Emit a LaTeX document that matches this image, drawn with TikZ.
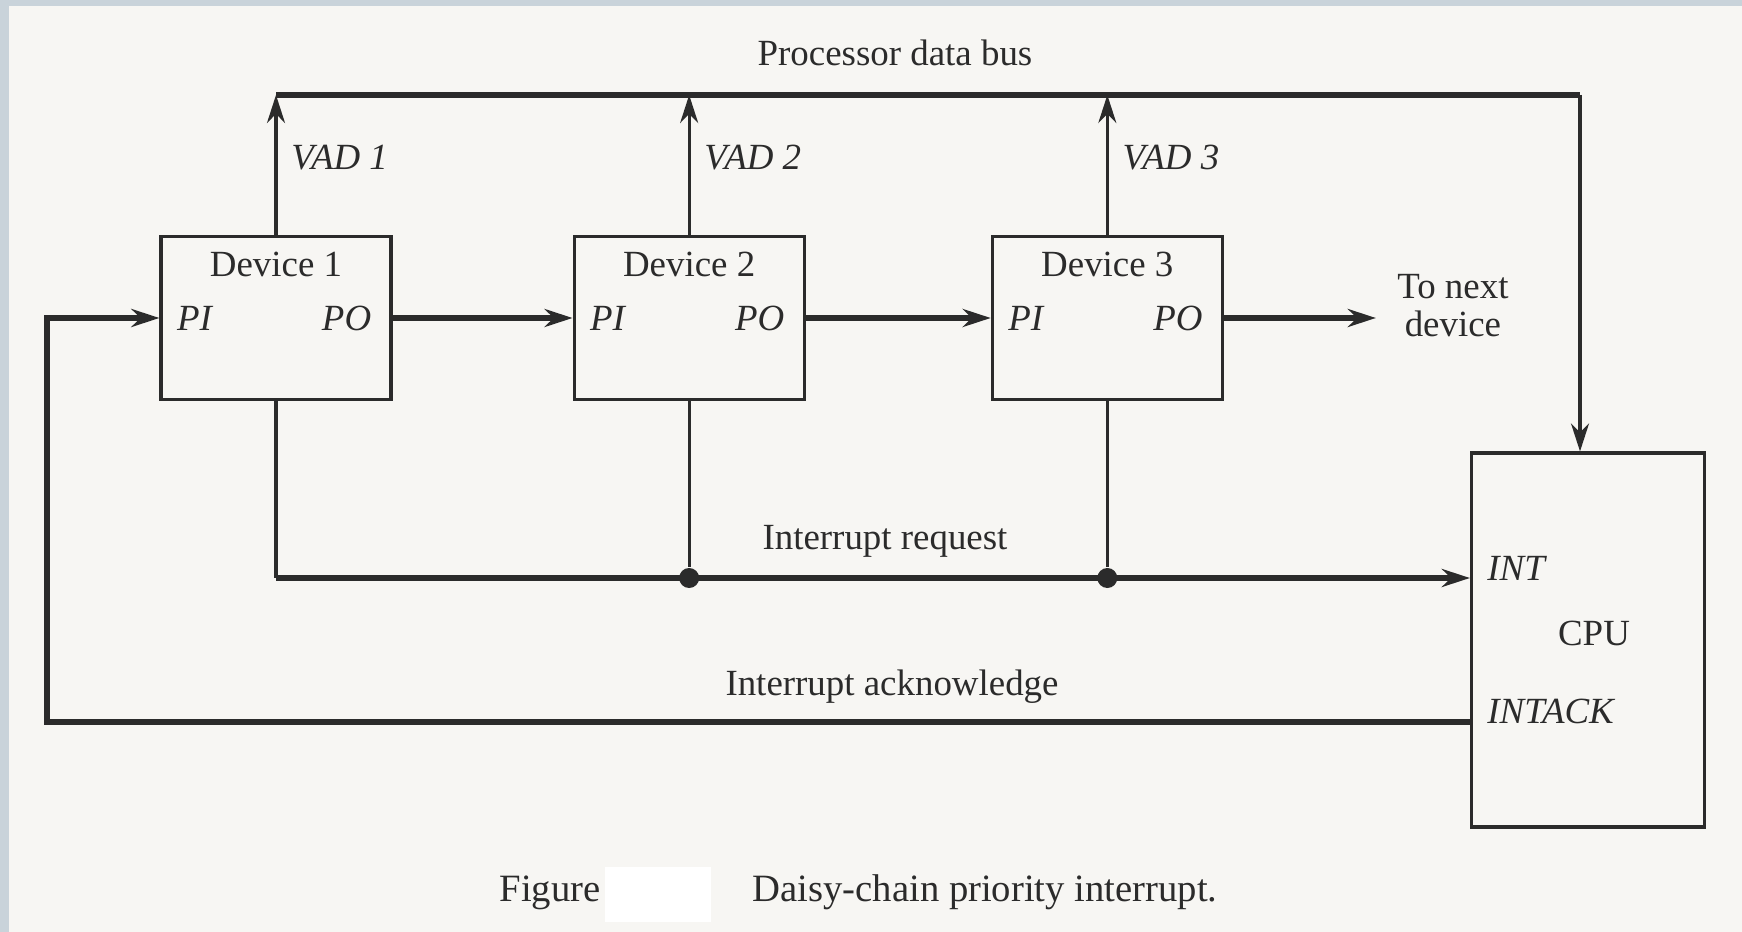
\documentclass[tikz,border=0pt]{standalone}
\usepackage{fontspec}
\setmainfont{Liberation Serif}
\usepackage{xcolor}
\usetikzlibrary{calc, arrows.meta, positioning}

\definecolor{paper}{HTML}{F7F6F3}
\definecolor{frame}{HTML}{C9D3DA}
\definecolor{ink}{HTML}{2B2B2B}

\begin{document}
\begin{tikzpicture}[
    x=0.1mm, y=-0.1mm,
    every node/.style={font=\fontsize{10.5}{13}\selectfont, text=ink},
    device/.style={draw=ink, line width=0.9pt, minimum width=23mm,
                   minimum height=16.3mm, inner sep=0pt},
    cpubox/.style={draw=ink, line width=0.9pt, minimum width=23.3mm,
                   minimum height=37.4mm, inner sep=0pt},
    port/.style={font=\fontsize{10.5}{13}\selectfont\itshape},
    thin/.style={draw=ink, line width=0.9pt},
    thick/.style={draw=ink, line width=1.5pt},
    tip/.style={-{Stealth[length=2.8mm, width=1.8mm]}},
    dot/.style={circle, fill=ink, inner sep=0pt, minimum size=2mm},
  ]

  % paper and scan edge
  \fill[frame] (0,0) rectangle (1742,932);
  \fill[paper] (9,6) rectangle (1742,932);
  \useasboundingbox (0,0) rectangle (1742,932);

  \coordinate (busy) at (0,95);
  \coordinate (inty) at (0,578);
  \coordinate (acky) at (0,722);

  \node[device] (dev1) at (276,318) {};
  \node[device, right=18mm of dev1] (dev2) {};
  \node[device, right=18.5mm of dev2] (dev3) {};
  \node[cpubox] (cpu) at (1588,640) {};

  \node (name1) at ([yshift=-3mm]dev1.north) {Device 1};
  \node (name2) at ([yshift=-3mm]dev2.north) {Device 2};
  \node (name3) at ([yshift=-3mm]dev3.north) {Device 3};

  \node[port] (pi1) at ([xshift=3.5mm]dev1.west) {PI};
  \node[port] (po1) at ([xshift=-4.6mm]dev1.east) {PO};
  \node[port] (pi2) at ([xshift=3.5mm]dev2.west) {PI};
  \node[port] (po2) at ([xshift=-4.6mm]dev2.east) {PO};
  \node[port] (pi3) at ([xshift=3.5mm]dev3.west) {PI};
  \node[port] (po3) at ([xshift=-4.6mm]dev3.east) {PO};

  % processor data bus
  \coordinate (buscorner) at (1580,95);
  \draw[thick] (dev1.north |- busy) -- (buscorner);
  \draw[thin, tip] (buscorner) -- (buscorner |- cpu.north);
  \node (buslbl) at (895,53) {Processor data bus};

  \draw[thin, tip] (dev1.north) -- node[port, right=0.2mm, pos=0.55] (vad1) {VAD 1} (dev1.north |- busy);
  \draw[thin, tip] (dev2.north) -- node[port, right=0.2mm, pos=0.55] (vad2) {VAD 2} (dev2.north |- busy);
  \draw[thin, tip] (dev3.north) -- node[port, right=0.2mm, pos=0.55] (vad3) {VAD 3} (dev3.north |- busy);

  % daisy chain
  \draw[thick, tip] (dev1.east) -- (dev2.west);
  \draw[thick, tip] (dev2.east) -- (dev3.west);
  \coordinate (nextend) at ([xshift=15.2mm]dev3.east);
  \draw[thick, tip] (dev3.east) -- (nextend);
  \node[right=0.9mm of nextend, yshift=1.2mm, align=center,
        font=\fontsize{10.5}{10.8}\selectfont] (next) {To next\\device};

  % interrupt request
  \node[dot] (j2) at (dev2.south |- inty) {};
  \node[dot] (j3) at (dev3.south |- inty) {};
  \draw[thin] (dev2.south) -- (j2);
  \draw[thin] (dev3.south) -- (j3);
  \draw[thin] (dev1.south) -- (dev1.south |- inty);
  \draw[thick, tip] (dev1.south |- inty) -- (cpu.west |- inty);
  \node (reqlbl) at (885,541) {Interrupt request};

  % interrupt acknowledge
  \coordinate (loopbl) at (47,722);
  \draw[thick, tip] (cpu.west |- acky) -- (loopbl) -- (loopbl |- dev1.west) -- (dev1.west);
  \node (acklbl) at (892,687) {Interrupt acknowledge};

  \node[port, anchor=west] (intlbl) at ([xshift=0.5mm]cpu.west |- 0,568) {INT};
  \node[port, anchor=west] (intack) at ([xshift=0.5mm]cpu.west |- 0,711) {INTACK};
  \node (cpulbl) at (1594,633) {CPU};

  % caption
  \node[font=\fontsize{11}{13}\selectfont] (figlbl) at (550,893) {Figure};
  \fill[white] (605,867) rectangle (711,922);
  \node[font=\fontsize{11}{13}\selectfont] (caption) at (985,892) {Daisy-chain priority interrupt.};
\end{tikzpicture}
\end{document}
